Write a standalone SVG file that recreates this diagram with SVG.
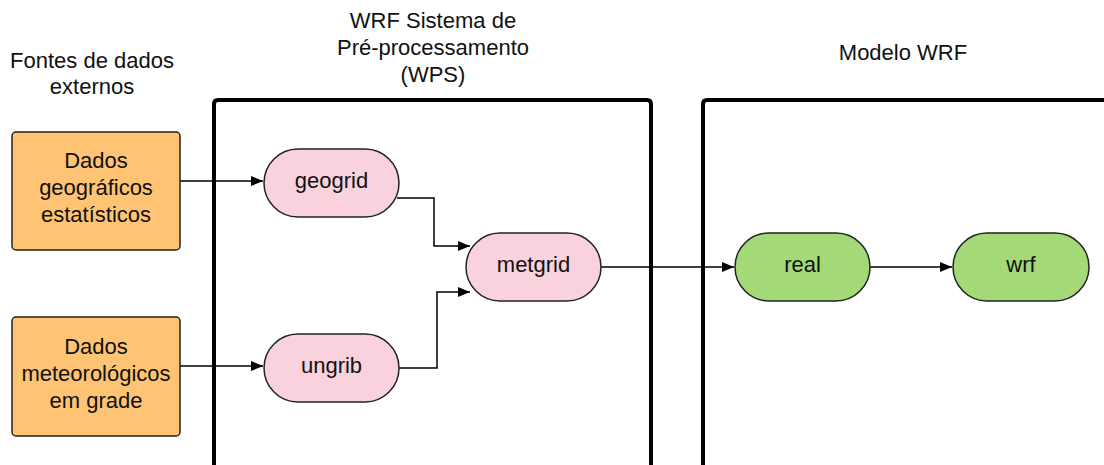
<svg xmlns="http://www.w3.org/2000/svg" width="1104" height="465" viewBox="0 0 1104 465">
<style>
text{font-family:"Liberation Sans",Arial,sans-serif;font-size:22px;fill:#111;text-anchor:middle}
.frame{fill:none;stroke:#000;stroke-width:4}
.src{fill:#FFC374;stroke:#222;stroke-width:1.5}
.wps{fill:#F9D2DE;stroke:#222;stroke-width:1.5}
.wrf{fill:#A3D977;stroke:#222;stroke-width:1.5}
.conn{fill:none;stroke:#000;stroke-width:1.5}
</style>
<defs>
<marker id="arr" viewBox="0 0 12 10" refX="12" refY="5" markerWidth="12" markerHeight="10" markerUnits="userSpaceOnUse" orient="auto">
<path d="M0,0 L12,5 L0,10 Z" fill="#000"/>
</marker>
</defs>
<rect fill="#fff" width="1104" height="465"/>
<g id="labels">
<text x="92" y="68">Fontes de dados</text>
<text x="92" y="94">externos</text>
<text x="433" y="28">WRF Sistema de</text>
<text x="433" y="55">Pré-processamento</text>
<text x="433" y="82">(WPS)</text>
<text x="903" y="60">Modelo WRF</text>
</g>
<g id="frame-wps"><path class="frame" d="M214,470 V104 Q214,100 218,100 H647 Q651,100 651,104 V470"/></g>
<g id="frame-wrf"><path class="frame" d="M703,470 V104 Q703,100 707,100 H1106"/></g>
<g id="connectors">
<path class="conn" d="M180,181 H263" marker-end="url(#arr)"/>
<path class="conn" d="M180,366 H263" marker-end="url(#arr)"/>
<path class="conn" d="M397,198 H434 V246 H470" marker-end="url(#arr)"/>
<path class="conn" d="M399,368 H437 V292 H470" marker-end="url(#arr)"/>
<path class="conn" d="M601,267 H734" marker-end="url(#arr)"/>
<path class="conn" d="M870,267 H952" marker-end="url(#arr)"/>
</g>
<g id="dados-geo">
<rect class="src" x="12" y="132" width="168" height="118" rx="4"/>
<text x="96" y="168">Dados</text>
<text x="96" y="195">geográficos</text>
<text x="96" y="222">estatísticos</text>
</g>
<g id="dados-met">
<rect class="src" x="12" y="317" width="168" height="119" rx="4"/>
<text x="96" y="354">Dados</text>
<text x="96" y="381">meteorológicos</text>
<text x="96" y="408">em grade</text>
</g>
<g id="geogrid">
<rect class="wps" x="264" y="149" width="135" height="68" rx="34"/>
<text x="331.5" y="188">geogrid</text>
</g>
<g id="ungrib">
<rect class="wps" x="264" y="334" width="135" height="68" rx="34"/>
<text x="331.5" y="373">ungrib</text>
</g>
<g id="metgrid">
<rect class="wps" x="466" y="233" width="135" height="68" rx="34"/>
<text x="533.5" y="272">metgrid</text>
</g>
<g id="real">
<rect class="wrf" x="735" y="233" width="135" height="68" rx="34"/>
<text x="802.5" y="272">real</text>
</g>
<g id="wrf">
<rect class="wrf" x="953" y="233" width="136" height="68" rx="34"/>
<text x="1021" y="272">wrf</text>
</g>
</svg>
